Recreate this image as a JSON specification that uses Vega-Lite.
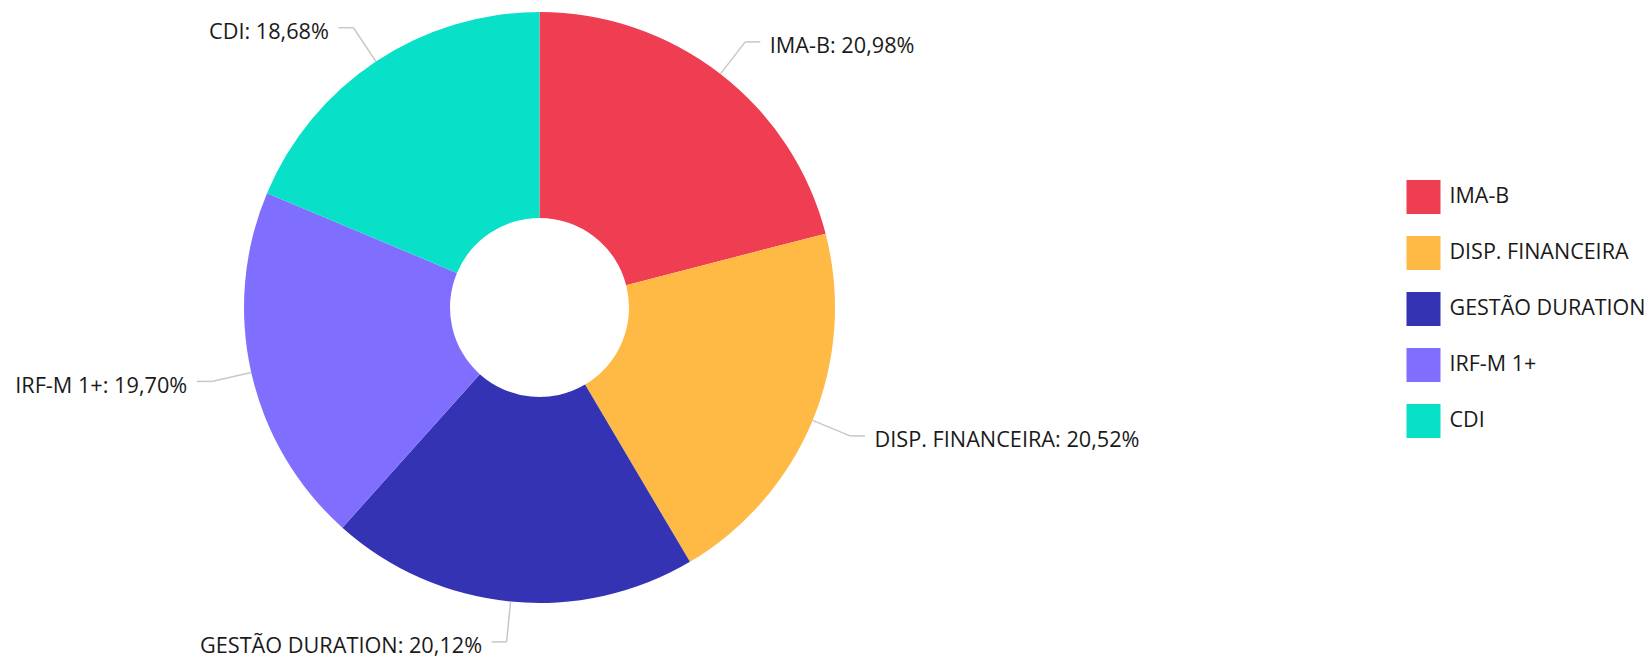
{
  "$schema": "https://vega.github.io/schema/vega-lite/v6.json",
  "width": 1079,
  "height": 615,
  "autosize": {"type": "none"},
  "padding": {"left": 0, "top": 0, "right": 571, "bottom": 46},
  "background": "#ffffff",
  "config": {
    "view": {"stroke": null},
    "font": "Open Sans"
  },
  "data": {
    "values": [
      {"category": "IMA-B", "value": 20.98, "order": 1},
      {"category": "DISP. FINANCEIRA", "value": 20.52, "order": 2},
      {"category": "GESTÃO DURATION", "value": 20.12, "order": 3},
      {"category": "IRF-M 1+", "value": 19.70, "order": 4},
      {"category": "CDI", "value": 18.68, "order": 5}
    ]
  },
  "transform": [
    {"window": [{"op": "sum", "field": "value", "as": "cum"}], "sort": [{"field": "order"}], "frame": [null, 0]},
    {"joinaggregate": [{"op": "sum", "field": "value", "as": "total"}]},
    {"calculate": "2 * PI * (datum.cum - datum.value / 2) / datum.total", "as": "mid"},
    {"calculate": "sin(datum.mid) >= 0 ? 1 : -1", "as": "side"},
    {"calculate": "295.5 * sin(datum.mid)", "as": "ex"},
    {"calculate": "295.5 * cos(datum.mid)", "as": "ey"},
    {"calculate": "336 * sin(datum.mid)", "as": "bx"},
    {"calculate": "336 * cos(datum.mid)", "as": "by"},
    {"calculate": "datum.bx + datum.side * 15", "as": "hx"},
    {"calculate": "datum.bx + datum.side * 24.5", "as": "tx"},
    {"calculate": "datum.category + ': ' + replace(format(datum.value, '.2f'), '.', ',') + '%'", "as": "label"}
  ],
  "layer": [
    {
      "mark": {"type": "arc", "outerRadius": 295.5, "innerRadius": 89.5},
      "encoding": {
        "theta": {"field": "value", "type": "quantitative", "stack": true},
        "order": {"field": "order", "type": "quantitative"},
        "color": {
          "field": "category",
          "type": "nominal",
          "scale": {
            "domain": ["IMA-B", "DISP. FINANCEIRA", "GESTÃO DURATION", "IRF-M 1+", "CDI"],
            "range": ["#EF3D51", "#FFB945", "#3333B4", "#806EFF", "#08E0C8"]
          },
          "legend": {
            "title": null,
            "orient": "none",
            "legendX": 1406.5,
            "legendY": 180,
            "padding": 0,
            "symbolType": "square",
            "symbolSize": 1156,
            "symbolStrokeWidth": 0,
            "rowPadding": 22,
            "labelFontSize": 21.5,
            "labelFont": "Open Sans",
            "labelColor": "#1a1a1a",
            "labelOffset": 9,
            "labelLimit": 400
          }
        }
      }
    },
    {
      "mark": {"type": "rule", "color": "#c8c8c8", "strokeWidth": 1.5},
      "encoding": {
        "x": {"field": "ex", "type": "quantitative", "scale": {"domain": [-539.5, 539.5], "nice": false, "zero": false}, "axis": null},
        "y": {"field": "ey", "type": "quantitative", "scale": {"domain": [-307.5, 307.5], "nice": false, "zero": false}, "axis": null},
        "x2": {"field": "bx"},
        "y2": {"field": "by"}
      }
    },
    {
      "mark": {"type": "rule", "color": "#c8c8c8", "strokeWidth": 1.5},
      "encoding": {
        "x": {"field": "bx", "type": "quantitative", "scale": {"domain": [-539.5, 539.5], "nice": false, "zero": false}, "axis": null},
        "y": {"field": "by", "type": "quantitative", "scale": {"domain": [-307.5, 307.5], "nice": false, "zero": false}, "axis": null},
        "x2": {"field": "hx"}
      }
    },
    {
      "transform": [{"filter": "datum.side > 0"}],
      "mark": {"type": "text", "align": "left", "baseline": "middle", "dy": 4.5, "fontSize": 21.7, "font": "Open Sans", "color": "#1a1a1a"},
      "encoding": {
        "x": {"field": "tx", "type": "quantitative", "scale": {"domain": [-539.5, 539.5], "nice": false, "zero": false}, "axis": null},
        "y": {"field": "by", "type": "quantitative", "scale": {"domain": [-307.5, 307.5], "nice": false, "zero": false}, "axis": null},
        "text": {"field": "label"}
      }
    },
    {
      "transform": [{"filter": "datum.side < 0"}],
      "mark": {"type": "text", "align": "right", "baseline": "middle", "dy": 4.5, "fontSize": 21.7, "font": "Open Sans", "color": "#1a1a1a"},
      "encoding": {
        "x": {"field": "tx", "type": "quantitative", "scale": {"domain": [-539.5, 539.5], "nice": false, "zero": false}, "axis": null},
        "y": {"field": "by", "type": "quantitative", "scale": {"domain": [-307.5, 307.5], "nice": false, "zero": false}, "axis": null},
        "text": {"field": "label"}
      }
    }
  ]
}
